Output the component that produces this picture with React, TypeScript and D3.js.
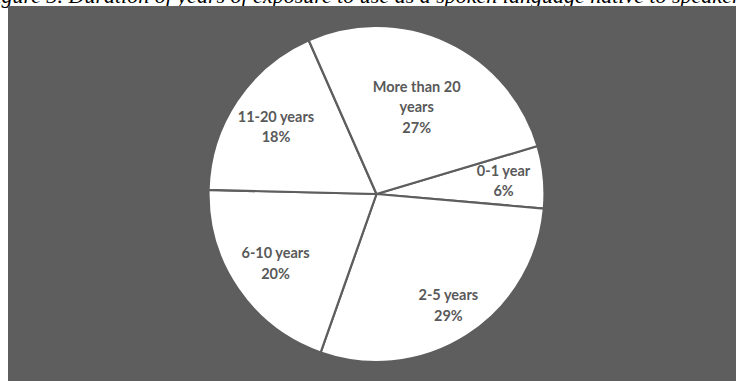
import React from "react";
import * as d3 from "d3";

// Share of respondents by years of exposure
const categories = ["0-1 year", "2-5 years", "6-10 years", "11-20 years", "More than 20 years"];
const percents = [6, 29, 20, 18, 27];
// Wrapped label lines for each category
const labelLines = [["0-1 year"], ["2-5 years"], ["6-10 years"], ["11-20 years"], ["More than 20", "years"]];
const captionText = "Figure 3. Duration of years of exposure to use as a spoken language native to speakers";

const W = 736;
const H = 381;
const CX = 376.5;
const CY = 194;
const R = 168;
const START = (73.4 * Math.PI) / 180;
// radial placement of each label, as a fraction of the radius
const LABEL_R = [0.76, 0.79, 0.73, 0.72, 0.57];
const GREY = "#5e5e5e";
const TEXT = "#595959";

export default function App() {
  const data = categories.map((c, i) => ({ name: c, value: percents[i], lines: labelLines[i] }));
  const pie = d3
    .pie<any>()
    .value((d) => d.value)
    .sort(null)
    .startAngle(START)
    .endAngle(START + 2 * Math.PI);
  const arcs = pie(data);
  const arc = d3.arc<any>().innerRadius(0).outerRadius(R);

  return (
    <>
      <style>{`html,body{margin:0;padding:0;overflow:hidden;}`}</style>
      <svg
        width={W}
        height={H}
        style={{ display: "block", overflow: "hidden", background: "#fff" }}
      >
        <text
          x={-18}
          y={3}
          fontFamily="'Liberation Serif', 'Times New Roman', serif"
          fontStyle="italic"
          fontSize={22}
          fill="#000"
        >
          {captionText}
        </text>
        <rect x={8} y={6} width={W - 8} height={H - 6} fill={GREY} />
        <g transform={`translate(${CX},${CY})`}>
          {arcs.map((a, i) => (
            <path key={i} d={arc(a) as string} fill="#fff" stroke={GREY} strokeWidth={2.2} strokeLinejoin="round" />
          ))}
          {arcs.map((a, i) => {
            const mid = (a.startAngle + a.endAngle) / 2;
            const r = R * LABEL_R[i];
            const x = Math.sin(mid) * r;
            const y = -Math.cos(mid) * r;
            const lines = [...a.data.lines, `${a.data.value}%`];
            const lh = 20.5;
            const y0 = y - ((lines.length - 1) * lh) / 2;
            return (
              <text
                key={`l${i}`}
                x={x}
                textAnchor="middle"
                fontFamily="Lato, 'Open Sans', sans-serif"
                fontWeight={700}
                fontSize={14.5}
                fill={TEXT}
              >
                {lines.map((t, j) => (
                  <tspan key={j} x={x} y={y0 + j * lh} dy="0.35em">
                    {t}
                  </tspan>
                ))}
              </text>
            );
          })}
        </g>
      </svg>
    </>
  );
}
